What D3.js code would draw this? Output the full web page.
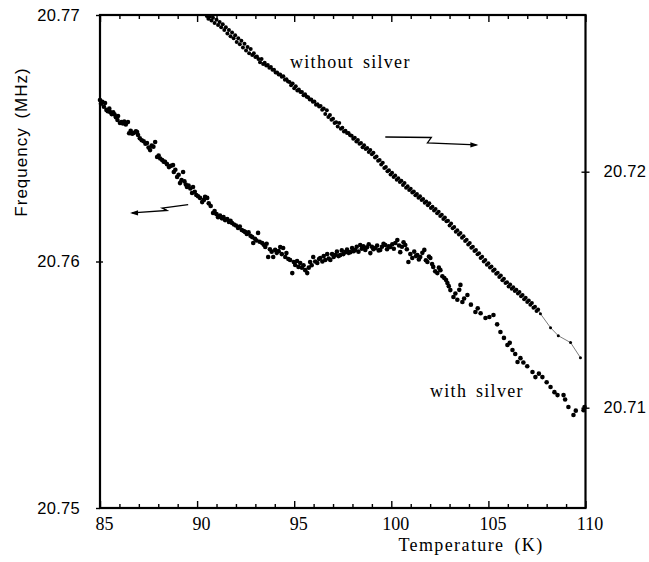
<!DOCTYPE html>
<html><head><meta charset="utf-8">
<script src="https://cdn.jsdelivr.net/npm/d3@7"></script>
<style>body{margin:0;background:#fff}svg{display:block;background:#fff}</style>
</head><body>
<svg id="c" width="649" height="562"></svg>
<script>
const xTicksMajor = [85, 90, 95, 100, 105, 110];
const xTicksMinor = [86,87,88,89,91,92,93,94,96,97,98,99,101,102,103,104,106,107,108,109];
const leftTicks = [20.75, 20.76, 20.77];
const rightTicks = [20.71, 20.72];

// "with silver" — left axis (T in K, frequency in MHz)
const withSilver = [[85.00,20.76655],[85.05,20.76640],[85.12,20.76648],[85.20,20.76628],[85.26,20.76643],[85.33,20.76615],[85.40,20.76610],[85.48,20.76620],[85.52,20.76606],[85.60,20.76598],[85.68,20.76605],[85.75,20.76596],[85.82,20.76585],[85.90,20.76574],[85.93,20.76590],[86.03,20.76562],[86.10,20.76566],[86.18,20.76560],[86.25,20.76568],[86.33,20.76556],[86.44,20.76566],[86.50,20.76520],[86.58,20.76530],[86.66,20.76518],[86.75,20.76522],[86.85,20.76528],[86.91,20.76525],[86.96,20.76513],[87.05,20.76500],[87.15,20.76492],[87.25,20.76488],[87.34,20.76478],[87.42,20.76481],[87.50,20.76462],[87.58,20.76452],[87.66,20.76470],[87.75,20.76466],[87.84,20.76485],[87.94,20.76424],[88.02,20.76430],[88.10,20.76418],[88.20,20.76412],[88.28,20.76405],[88.35,20.76404],[88.45,20.76395],[88.55,20.76383],[88.65,20.76388],[88.76,20.76391],[88.80,20.76363],[88.88,20.76372],[88.97,20.76343],[89.05,20.76352],[89.12,20.76318],[89.20,20.76330],[89.28,20.76363],[89.35,20.76325],[89.42,20.76312],[89.48,20.76302],[89.56,20.76308],[89.65,20.76296],[89.74,20.76278],[89.79,20.76302],[89.88,20.76283],[89.96,20.76270],[90.05,20.76265],[90.15,20.76258],[90.26,20.76241],[90.35,20.76250],[90.41,20.76262],[90.52,20.76258],[90.60,20.76236],[90.70,20.76225],[90.82,20.76197],[90.90,20.76205],[91.00,20.76192],[91.08,20.76180],[91.18,20.76186],[91.28,20.76175],[91.36,20.76180],[91.44,20.76168],[91.55,20.76172],[91.64,20.76160],[91.72,20.76165],[91.80,20.76156],[91.90,20.76150],[92.00,20.76146],[92.11,20.76136],[92.20,20.76142],[92.30,20.76128],[92.40,20.76124],[92.47,20.76120],[92.56,20.76112],[92.65,20.76118],[92.75,20.76104],[92.84,20.76099],[92.89,20.76075],[92.98,20.76092],[93.06,20.76085],[93.14,20.76116],[93.22,20.76080],[93.35,20.76075],[93.43,20.76068],[93.51,20.76059],[93.58,20.76072],[93.66,20.76018],[93.75,20.76050],[93.84,20.76040],[93.92,20.76018],[94.02,20.76047],[94.10,20.76035],[94.20,20.76042],[94.28,20.76059],[94.36,20.76030],[94.43,20.76055],[94.54,20.76018],[94.60,20.76034],[94.70,20.76010],[94.79,20.76006],[94.90,20.75953],[94.98,20.75998],[95.05,20.75986],[95.15,20.76002],[95.22,20.75978],[95.31,20.75994],[95.40,20.75975],[95.48,20.75985],[95.57,20.75965],[95.67,20.75953],[95.75,20.75975],[95.82,20.75998],[95.90,20.75985],[95.98,20.76018],[96.08,20.76000],[96.19,20.75994],[96.28,20.76010],[96.34,20.76014],[96.45,20.76000],[96.52,20.76022],[96.60,20.76006],[96.70,20.76030],[96.78,20.76012],[96.86,20.76006],[96.95,20.76030],[97.03,20.76018],[97.11,20.76026],[97.20,20.76040],[97.28,20.76022],[97.37,20.76026],[97.45,20.76045],[97.53,20.76030],[97.63,20.76038],[97.72,20.76048],[97.80,20.76035],[97.89,20.76038],[97.98,20.76055],[98.06,20.76042],[98.14,20.76047],[98.22,20.76060],[98.31,20.76040],[98.40,20.76067],[98.48,20.76052],[98.56,20.76062],[98.66,20.76047],[98.75,20.76058],[98.84,20.76070],[98.92,20.76034],[99.00,20.76060],[99.08,20.76050],[99.18,20.76055],[99.27,20.76065],[99.35,20.76045],[99.43,20.76047],[99.52,20.76060],[99.60,20.76072],[99.69,20.76067],[99.78,20.76050],[99.87,20.76062],[99.95,20.76059],[100.05,20.76070],[100.13,20.76052],[100.21,20.76075],[100.31,20.76087],[100.40,20.76065],[100.46,20.76038],[100.55,20.76060],[100.63,20.76078],[100.72,20.76067],[100.80,20.76050],[100.88,20.75998],[100.98,20.76030],[101.08,20.76014],[101.18,20.76040],[101.27,20.76022],[101.34,20.76026],[101.42,20.76008],[101.49,20.76018],[101.60,20.76035],[101.70,20.76047],[101.78,20.76005],[101.86,20.75998],[101.94,20.76020],[102.01,20.76014],[102.10,20.75990],[102.16,20.75978],[102.26,20.75960],[102.37,20.75953],[102.45,20.75975],[102.53,20.75965],[102.63,20.75940],[102.73,20.75933],[102.82,20.75925],[102.89,20.75913],[102.96,20.75900],[103.04,20.75884],[103.20,20.75856],[103.30,20.75870],[103.40,20.75845],[103.50,20.75885],[103.56,20.75905],[103.66,20.75836],[103.75,20.75850],[103.92,20.75864],[104.10,20.75825],[104.33,20.75795],[104.45,20.75810],[104.60,20.75790],[104.85,20.75771],[105.05,20.75775],[105.26,20.75783],[105.45,20.75745],[105.62,20.75714],[105.80,20.75690],[105.98,20.75661],[106.10,20.75670],[106.24,20.75641],[106.38,20.75625],[106.50,20.75592],[106.65,20.75608],[106.80,20.75590],[107.00,20.75575],[107.27,20.75552],[107.42,20.75531],[107.60,20.75545],[107.78,20.75531],[108.00,20.75510],[108.20,20.75491],[108.40,20.75470],[108.56,20.75458],[108.87,20.75458],[108.95,20.75440],[109.12,20.75410],[109.38,20.75377],[109.50,20.75395],[109.90,20.75397],[109.95,20.75410]];

// "without silver" — right axis (dense run)
const withoutSilver = [[90.50,20.72660],[90.58,20.72648],[90.66,20.72658],[90.74,20.72641],[90.82,20.72652],[90.90,20.72630],[91.00,20.72644],[91.08,20.72622],[91.16,20.72634],[91.24,20.72612],[91.32,20.72625],[91.40,20.72600],[91.48,20.72612],[91.56,20.72586],[91.64,20.72600],[91.72,20.72574],[91.80,20.72590],[91.88,20.72566],[91.96,20.72578],[92.04,20.72550],[92.12,20.72566],[92.20,20.72540],[92.28,20.72555],[92.36,20.72526],[92.44,20.72542],[92.52,20.72514],[92.60,20.72528],[92.68,20.72502],[92.76,20.72520],[92.84,20.72494],[92.92,20.72502],[93.00,20.72486],[93.08,20.72488],[93.16,20.72478],[93.24,20.72464],[93.32,20.72478],[93.40,20.72456],[93.48,20.72462],[93.56,20.72450],[93.64,20.72452],[93.72,20.72440],[93.80,20.72444],[93.88,20.72432],[93.96,20.72432],[94.04,20.72420],[94.12,20.72420],[94.20,20.72412],[94.28,20.72412],[94.36,20.72402],[94.44,20.72404],[94.52,20.72390],[94.60,20.72392],[94.68,20.72382],[94.76,20.72380],[94.84,20.72366],[94.92,20.72374],[95.00,20.72354],[95.08,20.72362],[95.16,20.72344],[95.24,20.72348],[95.32,20.72338],[95.40,20.72338],[95.48,20.72324],[95.56,20.72328],[95.64,20.72318],[95.72,20.72316],[95.80,20.72306],[95.88,20.72306],[95.96,20.72296],[96.04,20.72298],[96.12,20.72284],[96.20,20.72286],[96.28,20.72276],[96.36,20.72278],[96.44,20.72262],[96.52,20.72268],[96.60,20.72244],[96.68,20.72260],[96.76,20.72232],[96.84,20.72240],[96.92,20.72220],[97.00,20.72224],[97.08,20.72206],[97.16,20.72210],[97.24,20.72192],[97.32,20.72206],[97.40,20.72182],[97.48,20.72186],[97.56,20.72170],[97.64,20.72174],[97.72,20.72164],[97.80,20.72164],[97.88,20.72154],[97.96,20.72152],[98.04,20.72140],[98.12,20.72144],[98.20,20.72128],[98.28,20.72134],[98.36,20.72118],[98.44,20.72122],[98.52,20.72104],[98.60,20.72112],[98.68,20.72096],[98.76,20.72100],[98.84,20.72084],[98.92,20.72092],[99.00,20.72074],[99.08,20.72080],[99.16,20.72060],[99.24,20.72064],[99.32,20.72046],[99.40,20.72050],[99.48,20.72030],[99.56,20.72038],[99.64,20.72016],[99.72,20.72020],[99.80,20.72002],[99.88,20.72006],[99.96,20.71988],[100.04,20.71996],[100.12,20.71978],[100.20,20.71984],[100.28,20.71966],[100.36,20.71972],[100.44,20.71956],[100.52,20.71962],[100.60,20.71944],[100.68,20.71952],[100.76,20.71932],[100.84,20.71938],[100.92,20.71922],[101.00,20.71928],[101.08,20.71912],[101.16,20.71916],[101.24,20.71900],[101.32,20.71906],[101.40,20.71890],[101.48,20.71896],[101.56,20.71880],[101.64,20.71884],[101.72,20.71868],[101.80,20.71874],[101.88,20.71858],[101.96,20.71866],[102.04,20.71846],[102.12,20.71852],[102.20,20.71836],[102.28,20.71842],[102.36,20.71824],[102.44,20.71830],[102.52,20.71812],[102.60,20.71818],[102.68,20.71800],[102.76,20.71806],[102.84,20.71790],[102.92,20.71792],[103.00,20.71772],[103.08,20.71780],[103.16,20.71760],[103.24,20.71766],[103.32,20.71746],[103.40,20.71752],[103.48,20.71734],[103.56,20.71740],[103.64,20.71720],[103.72,20.71726],[103.80,20.71706],[103.88,20.71712],[103.96,20.71692],[104.04,20.71698],[104.12,20.71678],[104.20,20.71682],[104.28,20.71664],[104.36,20.71668],[104.44,20.71650],[104.52,20.71654],[104.60,20.71634],[104.68,20.71640],[104.76,20.71620],[104.84,20.71626],[104.92,20.71606],[105.00,20.71612],[105.08,20.71594],[105.16,20.71598],[105.24,20.71580],[105.32,20.71586],[105.40,20.71568],[105.48,20.71572],[105.56,20.71554],[105.64,20.71560],[105.72,20.71540],[105.80,20.71546],[105.88,20.71528],[105.96,20.71532],[106.04,20.71514],[106.12,20.71522],[106.20,20.71504],[106.28,20.71510],[106.36,20.71494],[106.44,20.71500],[106.52,20.71484],[106.60,20.71490],[106.68,20.71472],[106.76,20.71478],[106.84,20.71460],[106.92,20.71466],[107.00,20.71448],[107.08,20.71454],[107.16,20.71436],[107.24,20.71444],[107.32,20.71424],[107.40,20.71428],[107.48,20.71410],[107.56,20.71416]];
// "without silver" — sparse tail joined by a thin line
const withoutSilverTail = [[107.56,20.71416],[107.68,20.71398],[108.20,20.71339],[108.60,20.71305],[109.23,20.71276],[109.74,20.71212]];

// annotation arrows (T, left-axis MHz)
const arrowLeft = [[89.54,20.76231],[88.20,20.76217],[88.45,20.76207],[86.65,20.76197]];
const arrowRight = [[99.69,20.76505],[102.06,20.76503],[101.86,20.76481],[104.38,20.76473]];

const svg = d3.select('#c');
const L = 100, R = 585.5, T = 15, B = 508;
const x = d3.scaleLinear().domain([85, 110]).range([L, R]);
const yL = d3.scaleLinear().domain([20.75, 20.77]).range([B, T]);
const yR = d3.scaleLinear().domain([20.70575, 20.72664]).range([B, T]);

const serif = "'Liberation Serif','Times New Roman',serif";
const sans = "'Liberation Sans',Arial,sans-serif";

function clean(g){ g.select('.domain').remove(); g.selectAll('line').attr('stroke','#000').attr('stroke-width',1.4); }

// bottom axis
svg.append('g').attr('transform',`translate(0,${B})`)
  .call(d3.axisBottom(x).tickValues(xTicksMinor).tickSize(-4).tickFormat(''))
  .call(clean);
svg.append('g').attr('transform',`translate(0,${B})`)
  .call(d3.axisBottom(x).tickValues(xTicksMajor).tickSize(-7).tickPadding(8).tickFormat(d3.format('d')))
  .call(clean)
  .call(g => g.selectAll('text').attr('font-family',serif).attr('font-size',18).attr('fill','#000').attr('dx',4).attr('dy','0.78em'));
// top axis
svg.append('g').attr('transform',`translate(0,${T})`)
  .call(d3.axisTop(x).tickValues(xTicksMinor).tickSize(-4).tickFormat('')).call(clean);
svg.append('g').attr('transform',`translate(0,${T})`)
  .call(d3.axisTop(x).tickValues(xTicksMajor).tickSize(-7).tickFormat('')).call(clean);

// left axis
svg.append('g').attr('transform',`translate(${L},0)`)
  .call(d3.axisLeft(yL).tickValues(leftTicks).tickSize(4).tickPadding(16).tickFormat(d3.format('.2f')))
  .call(clean)
  .call(g => g.selectAll('text').attr('font-family',sans).attr('font-size',16.5).attr('letter-spacing','0.3px').attr('fill','#000'));
svg.append('g').attr('transform',`translate(${L},0)`)
  .call(d3.axisLeft(yL).tickValues([20.76]).tickSize(-3).tickFormat('')).call(clean);
// right axis
svg.append('g').attr('transform',`translate(${R},0)`)
  .call(d3.axisRight(yR).tickValues(rightTicks).tickSize(4).tickPadding(14).tickFormat(d3.format('.2f')))
  .call(clean)
  .call(g => g.selectAll('text').attr('font-family',sans).attr('font-size',16.5).attr('letter-spacing','0.3px').attr('fill','#000'));
svg.append('g').attr('transform',`translate(${R},0)`)
  .call(d3.axisRight(yR).tickValues(rightTicks).tickSize(-4).tickFormat('')).call(clean);

// frame
svg.append('rect').attr('x',L).attr('y',T).attr('width',R-L).attr('height',B-T)
  .attr('fill','none').attr('stroke','#000').attr('stroke-width',2.2);

// data: with silver
svg.append('g').selectAll('circle').data(withSilver).join('circle')
  .attr('cx',d=>x(d[0])).attr('cy',d=>yL(d[1])).attr('r',2.3).attr('fill','#000');
// data: without silver
svg.append('path').datum(withoutSilverTail)
  .attr('d',d3.line().x(d=>x(d[0])).y(d=>yR(d[1])))
  .attr('fill','none').attr('stroke','#444').attr('stroke-width',0.7);
svg.append('g').selectAll('circle').data(withoutSilver).join('circle')
  .attr('cx',d=>x(d[0])).attr('cy',d=>yR(d[1])).attr('r',2.0).attr('fill','#000');
svg.append('g').selectAll('circle').data(withoutSilverTail.slice(1)).join('circle')
  .attr('cx',d=>x(d[0])).attr('cy',d=>yR(d[1])).attr('r',1.5).attr('fill','#000');

// arrows
const aline = d3.line().x(d=>x(d[0])).y(d=>yL(d[1]));
function arrow(pts, dir){
  svg.append('path').datum(pts).attr('d',aline).attr('fill','none').attr('stroke','#000').attr('stroke-width',1.3);
  const e = pts[pts.length-1], ex = x(e[0]), ey = yL(e[1]);
  const p = dir > 0
    ? `M${ex+2},${ey} L${ex-6},${ey-2.6} L${ex-6},${ey+2.6} Z`
    : `M${ex-2},${ey} L${ex+6},${ey-2.6} L${ex+6},${ey+2.6} Z`;
  svg.append('path').attr('d',p).attr('fill','#000');
}
arrow(arrowLeft,-1);
arrow(arrowRight,1);

// labels
svg.append('text').attr('x',290).attr('y',68).attr('font-family',serif).attr('font-size',18)
  .attr('letter-spacing','1.3px').attr('word-spacing','3px').attr('fill','#000').text('without silver');
svg.append('text').attr('x',430).attr('y',397).attr('font-family',serif).attr('font-size',18)
  .attr('letter-spacing','1.3px').attr('word-spacing','3px').attr('fill','#000').text('with silver');
svg.append('text').attr('x',471).attr('y',551).attr('text-anchor','middle').attr('font-family',serif).attr('font-size',18)
  .attr('letter-spacing','1.4px').attr('word-spacing','4px').attr('fill','#000').text('Temperature (K)');
svg.append('text').attr('transform','translate(27,142) rotate(-90)').attr('text-anchor','middle')
  .attr('font-family',sans).attr('font-size',17).attr('letter-spacing','1px').attr('word-spacing','3px')
  .attr('fill','#000').text('Frequency (MHz)');
</script>
</body></html>
